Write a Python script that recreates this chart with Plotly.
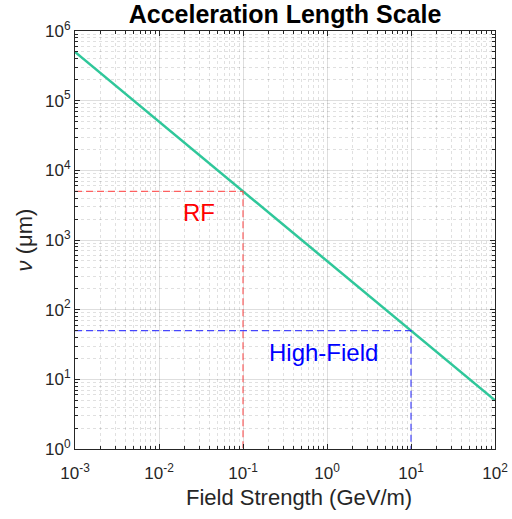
import numpy as np
import plotly.graph_objects as go

# Data
field = [1e-3, 1e-2, 1e-1, 1e0, 1e1, 1e2]          # GeV/m
length = [5e5, 5e4, 5e3, 5e2, 5e1, 5e0]            # um
rf_point = (0.1, 5e3)
hf_point = (10.0, 50.0)
x_ticks = [1e-3, 1e-2, 1e-1, 1e0, 1e1, 1e2]
x_ticktext = ["10<sup>-3</sup>", "10<sup>-2</sup>", "10<sup>-1</sup>", "10<sup>0</sup>", "10<sup>1</sup>", "10<sup>2</sup>"]
y_ticks = [1e0, 1e1, 1e2, 1e3, 1e4, 1e5, 1e6]
y_ticktext = ["10<sup>0</sup>", "10<sup>1</sup>", "10<sup>2</sup>", "10<sup>3</sup>", "10<sup>4</sup>", "10<sup>5</sup>", "10<sup>6</sup>"]
x_minor = [m * 10.0 ** e for e in range(-3, 2) for m in range(2, 10)]
y_minor = [m * 10.0 ** e for e in range(0, 6) for m in range(2, 10)]

xmin, xmax = 1e-3, 1e2
ymin, ymax = 1e0, 1e6

FONT = "Liberation Sans, Arial"

fig = go.Figure()
fig.add_trace(go.Scatter(x=field, y=length, mode="lines",
                         line=dict(color="#2fc79a", width=2.5), showlegend=False))

red = "rgba(255,70,70,0.85)"
blue = "rgba(40,40,255,0.85)"
fig.add_trace(go.Scatter(x=[xmin, rf_point[0], rf_point[0]], y=[rf_point[1], rf_point[1], ymin],
                         mode="lines", line=dict(color=red, width=1.2, dash="7px,4px"), showlegend=False))
fig.add_trace(go.Scatter(x=[xmin, hf_point[0], hf_point[0]], y=[hf_point[1], hf_point[1], ymin],
                         mode="lines", line=dict(color=blue, width=1.2, dash="7px,4px"), showlegend=False))

fig.add_annotation(x=np.log10(0.03), y=np.log10(2450), text="RF", showarrow=False,
                   font=dict(family=FONT, size=24, color="#ff0000"))
fig.add_annotation(x=np.log10(0.92), y=np.log10(24), text="High-Field", showarrow=False,
                   font=dict(family=FONT, size=24, color="#0000ff"))
# x-axis title
fig.add_annotation(xref="paper", yref="paper", x=0.533, y=0, yshift=-48, yanchor="middle",
                   text="Field Strength (GeV/m)", showarrow=False,
                   font=dict(family=FONT, size=22, color="#262626"))

def axis_common(minor_vals):
    return dict(
        type="log", showline=True, mirror="ticks", linecolor="#262626", linewidth=1,
        ticks="inside", ticklen=5, tickcolor="#262626", automargin=False,
        showgrid=True, gridcolor="rgba(0,0,0,0.13)", gridwidth=1, zeroline=False,
        tickfont=dict(family=FONT, size=17, color="#262626"),
        minor=dict(tickmode="array", tickvals=minor_vals, ticks="inside", ticklen=3,
                   tickcolor="#262626", showgrid=True,
                   gridcolor="rgba(0,0,0,0.12)", griddash="dot", gridwidth=1),
    )

fig.update_xaxes(range=[np.log10(xmin), np.log10(xmax)], tickmode="array",
                 tickvals=x_ticks, ticktext=x_ticktext, ticklabelstandoff=9,
                 **axis_common(x_minor))
fig.update_yaxes(range=[np.log10(ymin), np.log10(ymax)], tickmode="array",
                 tickvals=y_ticks, ticktext=y_ticktext,
                 title=dict(text="<i>ν</i> (μm)", standoff=6,
                            font=dict(family=FONT, size=22, color="#262626")),
                 **axis_common(y_minor))

fig.update_layout(
    width=512, height=519,
    margin=dict(l=75, r=17, t=31, b=70),
    paper_bgcolor="white", plot_bgcolor="white",
    title=dict(text="<b>Acceleration Length Scale</b>", x=0.5, xref="paper", y=0.972, yanchor="middle",
               font=dict(family=FONT, size=25, color="#000000")),
)

fig.write_html("out.html")
